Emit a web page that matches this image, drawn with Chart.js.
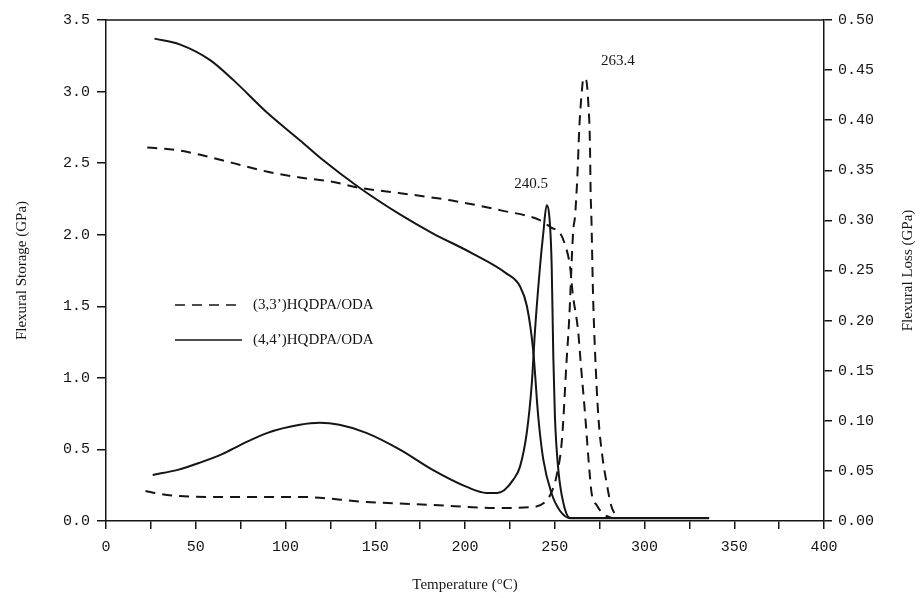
<!DOCTYPE html>
<html>
<head>
<meta charset="utf-8">
<script src="https://cdn.jsdelivr.net/npm/chart.js@4"></script>
<style>
  html, body { margin: 0; padding: 0; background: #fff; }
  #wrap { width: 923px; height: 598px; position: relative; }
</style>
</head>
<body>
<div id="wrap"><canvas id="chart"></canvas></div>
<script>
// --- data ---
// (4,4')HQDPA/ODA storage modulus (left axis, GPa)
const storage44Temp = [27, 41, 58, 71, 90, 108, 120, 141, 164, 182, 204, 223, 230.6, 234.5, 238, 240.8, 243.6, 248.3, 253, 258.5, 336];
const storage44 = [3.37, 3.33, 3.22, 3.08, 2.85, 2.66, 2.53, 2.33, 2.14, 2.01, 1.87, 1.73, 1.64, 1.50, 1.19, 0.73, 0.43, 0.19, 0.07, 0.02, 0.02];

// (3,3')HQDPA/ODA storage modulus (left axis, GPa)
const storage33Temp = [23, 40, 52, 71, 90, 108, 126, 140, 164, 192, 220, 242, 248, 253, 256, 258.5, 260, 263, 264.5, 267, 269, 270.6, 273.4, 277, 282];
const storage33 = [2.61, 2.59, 2.56, 2.50, 2.44, 2.40, 2.37, 2.33, 2.29, 2.24, 2.17, 2.10, 2.05, 2.01, 1.92, 1.78, 1.59, 1.33, 1.10, 0.73, 0.40, 0.19, 0.11, 0.05, 0.02];

// (4,4')HQDPA/ODA loss modulus (right axis, GPa)
const loss44Temp = [26, 40, 52, 65, 75, 90, 108, 119, 130, 145, 164, 182, 201, 212, 218, 222, 226.8, 230.6, 234.4, 237.2, 239, 241.8, 243.6, 245.5, 247.4, 248.3, 249.2, 250.1, 252, 254.8, 258.5, 336];
const loss44 = [0.046, 0.051, 0.058, 0.067, 0.076, 0.088, 0.096, 0.098, 0.096, 0.088, 0.071, 0.051, 0.034, 0.028, 0.028, 0.031, 0.041, 0.054, 0.088, 0.137, 0.19, 0.254, 0.287, 0.315, 0.294, 0.254, 0.164, 0.104, 0.051, 0.018, 0.003, 0.003];

// (3,3')HQDPA/ODA loss modulus (right axis, GPa)
const loss33Temp = [22, 30, 40, 60, 108, 145, 182, 220, 238, 245.7, 248.5, 251, 254, 256.6, 258, 260.3, 261.3, 262.6, 263.7, 265, 266, 267.5, 268.7, 269.6, 270, 270.4, 271.3, 272.4, 274.3, 276.5, 278.9, 281.5, 284.5];
const loss33 = [0.030, 0.027, 0.025, 0.024, 0.024, 0.019, 0.016, 0.013, 0.014, 0.021, 0.030, 0.045, 0.081, 0.16, 0.20, 0.29, 0.304, 0.344, 0.393, 0.427, 0.442, 0.44, 0.417, 0.377, 0.327, 0.304, 0.228, 0.171, 0.104, 0.065, 0.038, 0.015, 0.004];

// peak labels: [temperature label, x position, loss value]
const peakLabels = [
  { text: '240.5', x: 236.8, y: 0.336, align: 'center' },
  { text: '263.4', x: 275.8, y: 0.459, align: 'left' }
];

const legendItems = [
  { text: '(3,3\u2019)HQDPA/ODA', dash: [10, 7] },
  { text: '(4,4\u2019)HQDPA/ODA', dash: [] }
];

const INK = '#151515';
const tickFont = { family: '"Liberation Mono", "DejaVu Sans Mono", monospace', size: 15 };
const serif = '"Liberation Serif", "DejaVu Serif", serif';

function pts(xs, ys) {
  return xs.map((x, i) => ({ x: x, y: ys[i] }));
}

// --- extras: top frame, right title, peak labels, inline legend ---
const extras = {
  id: 'extras',
  afterDraw(chart) {
    const { ctx, chartArea: a, scales } = chart;
    ctx.save();
    ctx.strokeStyle = INK;
    ctx.lineWidth = 1.5;
    ctx.beginPath();
    ctx.moveTo(a.left, a.top);
    ctx.lineTo(a.right, a.top);
    ctx.stroke();

    // right axis title, reading bottom to top
    ctx.fillStyle = INK;
    ctx.font = '15px ' + serif;
    ctx.textAlign = 'center';
    ctx.textBaseline = 'middle';
    ctx.translate(908, (a.top + a.bottom) / 2);
    ctx.rotate(-Math.PI / 2);
    ctx.fillText('Flexural Loss (GPa)', 0, 0);
    ctx.restore();

    ctx.save();
    ctx.fillStyle = INK;
    ctx.font = '15px ' + serif;
    ctx.textBaseline = 'middle';
    peakLabels.forEach(p => {
      ctx.textAlign = p.align;
      ctx.fillText(p.text, scales.x.getPixelForValue(p.x), scales.y1.getPixelForValue(p.y));
    });

    // legend inside plot
    ctx.textAlign = 'left';
    ctx.strokeStyle = INK;
    ctx.lineWidth = 1.6;
    legendItems.forEach((it, i) => {
      const y = a.top + 285 + i * 35;
      const x0 = a.left + 69;
      ctx.setLineDash(it.dash);
      ctx.beginPath();
      ctx.moveTo(x0, y);
      ctx.lineTo(x0 + 67, y);
      ctx.stroke();
      ctx.setLineDash([]);
      ctx.fillText(it.text, x0 + 78, y);
    });
    ctx.restore();
  }
};

const lineBase = {
  borderColor: INK,
  borderWidth: 2,
  pointRadius: 0,
  fill: false,
  cubicInterpolationMode: 'monotone'
};

new Chart(document.getElementById('chart'), {
  type: 'line',
  data: {
    datasets: [
      { ...lineBase, label: '(4,4\u2019) storage', data: pts(storage44Temp, storage44), yAxisID: 'y' },
      { ...lineBase, label: '(3,3\u2019) storage', data: pts(storage33Temp, storage33), yAxisID: 'y', borderDash: [10, 7] },
      { ...lineBase, label: '(4,4\u2019) loss', data: pts(loss44Temp, loss44), yAxisID: 'y1' },
      { ...lineBase, label: '(3,3\u2019) loss', data: pts(loss33Temp, loss33), yAxisID: 'y1', borderDash: [10, 7] }
    ]
  },
  options: {
    responsive: true,
    maintainAspectRatio: false,
    animation: false,
    layout: { padding: { top: 20, left: 0, right: 0, bottom: 0 } },
    plugins: {
      legend: { display: false },
      tooltip: { enabled: false }
    },
    scales: {
      x: {
        type: 'linear',
        min: 0,
        max: 400,
        afterFit: s => { s.height = 77; },
        ticks: {
          stepSize: 25,
          color: INK,
          font: tickFont,
          padding: 9,
          maxRotation: 0,
          autoSkip: false,
          callback: v => (v % 50 === 0 ? String(v) : '')
        },
        grid: { drawOnChartArea: false, drawTicks: true, tickLength: 8, color: INK, lineWidth: 1.5 },
        border: { display: true, color: INK, width: 1.5 },
        title: {
          display: true,
          text: 'Temperature (\u00B0C)',
          color: INK,
          font: { family: serif, size: 15 },
          padding: { top: 0, bottom: 4 }
        }
      },
      y: {
        position: 'left',
        min: 0,
        max: 3.5,
        afterFit: s => { s.width = 106; },
        ticks: {
          stepSize: 0.5,
          color: INK,
          font: tickFont,
          padding: 7,
          callback: v => v.toFixed(1)
        },
        grid: { drawOnChartArea: false, drawTicks: true, tickLength: 9, color: INK, lineWidth: 1.5 },
        border: { display: true, color: INK, width: 1.5 },
        title: {
          display: true,
          text: 'Flexural Storage (GPa)',
          color: INK,
          font: { family: serif, size: 15 },
          padding: { top: 13, bottom: 0 }
        }
      },
      y1: {
        position: 'right',
        min: 0,
        max: 0.5,
        afterFit: s => { s.width = 99; },
        ticks: {
          stepSize: 0.05,
          color: INK,
          font: tickFont,
          padding: 6,
          callback: v => v.toFixed(2)
        },
        grid: { drawOnChartArea: false, drawTicks: true, tickLength: 8, color: INK, lineWidth: 1.5 },
        border: { display: true, color: INK, width: 1.5 }
      }
    }
  },
  plugins: [extras]
});
</script>
</body>
</html>
